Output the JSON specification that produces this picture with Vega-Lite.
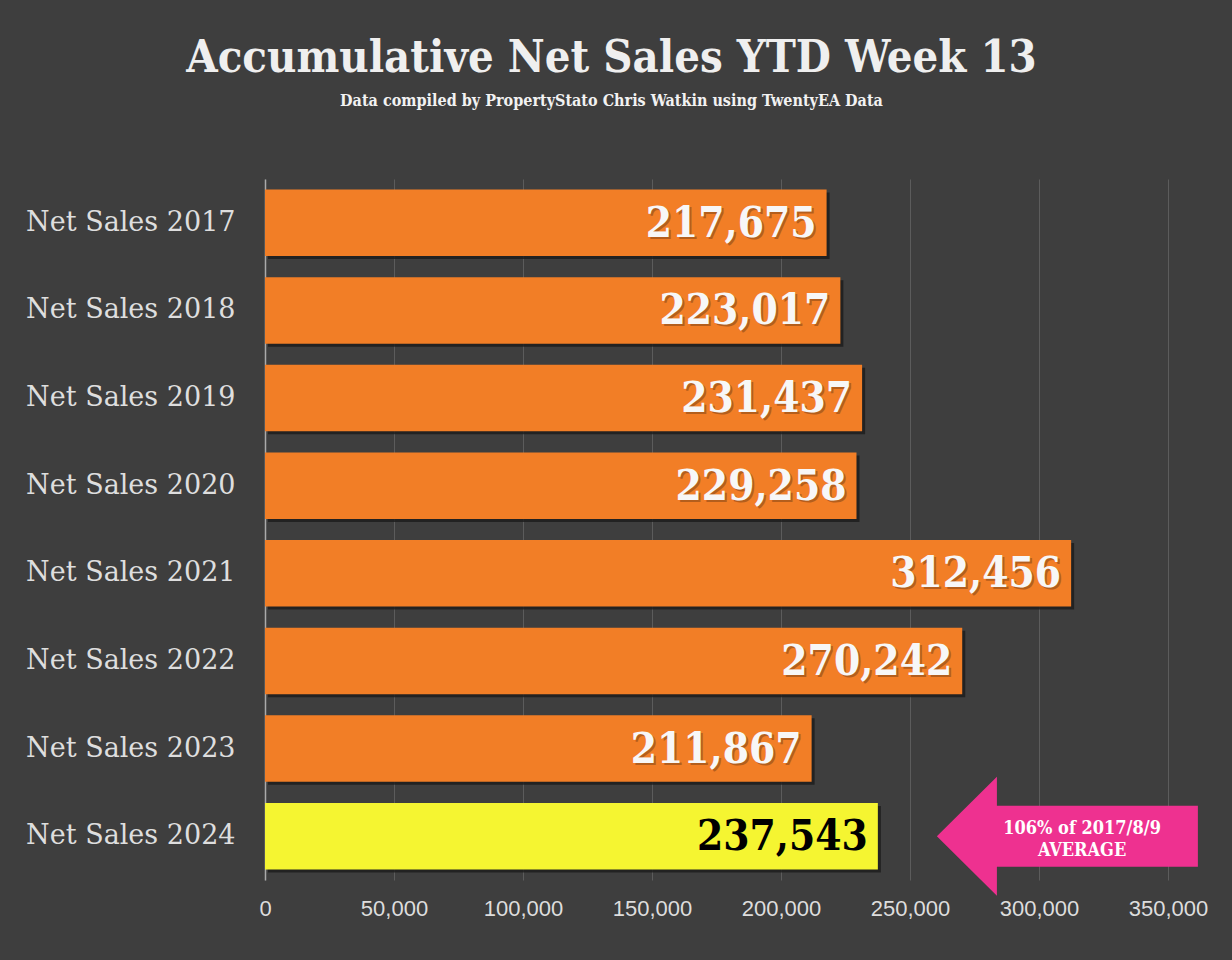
{
  "$schema": "https://vega.github.io/schema/vega-lite/v6.json",
  "description": "Accumulative net sales YTD week 13, 2017-2024, horizontal bars with a callout arrow.",
  "width": 903,
  "height": 701,
  "autosize": {"type": "none"},
  "padding": {"left": 265, "top": 179, "right": 64, "bottom": 80},
  "background": "#3e3e3e",
  "config": {"view": {"stroke": null}},
  "title": {
    "text": "Accumulative Net Sales YTD Week 13",
    "subtitle": "Data compiled by PropertyStato Chris Watkin using TwentyEA Data",
    "font": "DejaVu Serif Condensed",
    "fontSize": 45,
    "fontWeight": "bold",
    "color": "#efefef",
    "subtitleFont": "DejaVu Serif Condensed",
    "subtitleFontSize": 16,
    "subtitleFontWeight": "bold",
    "subtitleColor": "#f2f2f2",
    "subtitlePadding": 12,
    "anchor": "middle",
    "dx": -105,
    "offset": 70
  },
  "datasets": {
    "sales": [
      {"label": "Net Sales 2017", "sales": 217675, "kind": "past"},
      {"label": "Net Sales 2018", "sales": 223017, "kind": "past"},
      {"label": "Net Sales 2019", "sales": 231437, "kind": "past"},
      {"label": "Net Sales 2020", "sales": 229258, "kind": "past"},
      {"label": "Net Sales 2021", "sales": 312456, "kind": "past"},
      {"label": "Net Sales 2022", "sales": 270242, "kind": "past"},
      {"label": "Net Sales 2023", "sales": 211867, "kind": "past"},
      {"label": "Net Sales 2024", "sales": 237543, "kind": "current"}
    ],
    "note": [
      {"label": "Net Sales 2024", "arrow_at": 311000, "text_at": 316700, "note": "106% of 2017/8/9\nAVERAGE"}
    ]
  },
  "encoding": {
    "y": {
      "field": "label",
      "type": "nominal",
      "scale": {
        "domain": ["Net Sales 2017", "Net Sales 2018", "Net Sales 2019", "Net Sales 2020", "Net Sales 2021", "Net Sales 2022", "Net Sales 2023", "Net Sales 2024"],
        "paddingInner": 0.24,
        "paddingOuter": 0.12
      },
      "axis": {
        "title": null,
        "ticks": false,
        "grid": false,
        "domain": true,
        "domainColor": "#aaaaaa",
        "domainWidth": 1.5,
        "labelFont": "DejaVu Serif",
        "labelFontSize": 27,
        "labelColor": "#dedede",
        "labelPadding": 30,
        "labelLimit": 400
      }
    }
  },
  "layer": [
    {
      "data": {"name": "sales"},
      "mark": {"type": "bar", "color": "#1c1c1c", "opacity": 0.8, "xOffset": 3, "yOffset": 3},
      "encoding": {
        "x": {
          "field": "sales",
          "type": "quantitative",
          "scale": {"domain": [0, 350000], "nice": false},
          "axis": {
            "title": null,
            "values": [0, 50000, 100000, 150000, 200000, 250000, 300000, 350000],
            "format": ",d",
            "grid": true,
            "gridColor": "#5c5c5c",
            "gridWidth": 1,
            "domain": false,
            "ticks": false,
            "labelFlush": false,
            "labelFont": "Liberation Sans",
            "labelFontSize": 22,
            "labelColor": "#dddddd",
            "labelPadding": 18
          }
        }
      }
    },
    {
      "data": {"name": "sales"},
      "mark": {"type": "bar"},
      "encoding": {
        "x": {"field": "sales", "type": "quantitative"},
        "color": {
          "condition": {"test": "datum.kind === 'current'", "value": "#f5f531"},
          "value": "#f27e26"
        }
      }
    },
    {
      "data": {"name": "sales"},
      "transform": [{"filter": "datum.kind === 'past'"}],
      "mark": {
        "type": "text",
        "align": "right",
        "baseline": "middle",
        "dx": -8,
        "dy": 3,
        "font": "DejaVu Serif Condensed",
        "fontSize": 42,
        "fontWeight": "bold",
        "color": "#000000",
        "opacity": 0.25
      },
      "encoding": {
        "x": {"field": "sales", "type": "quantitative"},
        "text": {"field": "sales", "type": "quantitative", "format": ",d"}
      }
    },
    {
      "data": {"name": "sales"},
      "mark": {
        "type": "text",
        "align": "right",
        "baseline": "middle",
        "dx": -10,
        "dy": 1,
        "font": "DejaVu Serif Condensed",
        "fontSize": 42,
        "fontWeight": "bold"
      },
      "encoding": {
        "x": {"field": "sales", "type": "quantitative"},
        "text": {"field": "sales", "type": "quantitative", "format": ",d"},
        "color": {
          "condition": {"test": "datum.kind === 'current'", "value": "#000000"},
          "value": "#f7f7f7"
        }
      }
    },
    {
      "data": {"name": "note"},
      "mark": {
        "type": "point",
        "shape": "M -1 0 L -0.54 -0.456 L -0.54 -0.234 L 1 -0.234 L 1 0.234 L -0.54 0.234 L -0.54 0.456 Z",
        "size": 68121,
        "filled": true,
        "color": "#ee3190",
        "opacity": 1,
        "strokeWidth": 0
      },
      "encoding": {
        "x": {"field": "arrow_at", "type": "quantitative"}
      }
    },
    {
      "data": {"name": "note"},
      "mark": {
        "type": "text",
        "align": "center",
        "baseline": "middle",
        "dy": -7,
        "lineBreak": "\n",
        "lineHeight": 22,
        "font": "DejaVu Serif Condensed",
        "fontSize": 18,
        "fontWeight": "bold",
        "color": "#ffffff"
      },
      "encoding": {
        "x": {"field": "text_at", "type": "quantitative"},
        "text": {"field": "note", "type": "nominal"}
      }
    }
  ]
}
